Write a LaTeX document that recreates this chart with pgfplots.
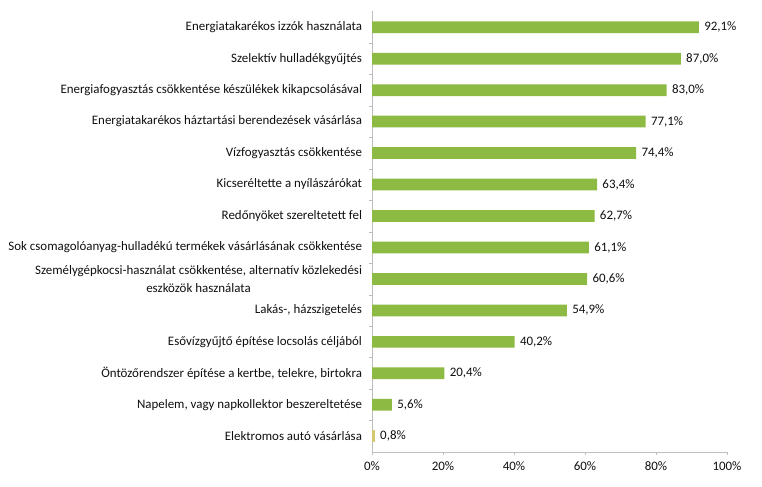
\documentclass[border=0pt]{standalone}
\usepackage{pgfplots}
\pgfplotsset{compat=1.18}
\usepackage{fontspec}
\setmainfont{Carlito}
\definecolor{barG}{RGB}{141,186,66}
\definecolor{barY}{RGB}{214,200,112}
\definecolor{axG}{RGB}{190,190,190}
\definecolor{txt}{RGB}{15,15,15}
\begin{document}
\begin{tikzpicture}
\path[use as bounding box] (0,0) rectangle (571.5pt,364.5pt);
\begin{axis}[
  at={(279pt,25.5pt)}, anchor=south west,
  scale only axis, width=266.25pt, height=330.4pt,
  xbar, bar width=8.8pt,
  xmin=0, xmax=100,
  ymin=-0.5, ymax=13.5, y dir=reverse,
  axis x line*=bottom, axis y line*=left,
  axis line style={axG, line width=0.6pt},
  xtick={0,20,...,100},
  xticklabel={\pgfmathprintnumber{\tick}\%},
  ytick={0,...,13},
  minor ytick={0.5,1.5,...,12.5},
  yticklabels={
    Energiatakarékos izzók használata,
    Szelektív hulladékgyűjtés,
    Energiafogyasztás csökkentése készülékek kikapcsolásával,
    Energiatakarékos háztartási berendezések vásárlása,
    Vízfogyasztás csökkentése,
    Kicseréltette a nyílászárókat,
    Redőnyöket szereltetett fel,
    Sok csomagolóanyag-hulladékú termékek vásárlásának csökkentése,
    {Személygépkocsi-használat csökkentése, alternatív közlekedési\\eszközök használata},
    {Lakás-, házszigetelés},
    Esővízgyűjtő építése locsolás céljából,
    {Öntözőrendszer építése a kertbe, telekre, birtokra},
    {Napelem, vagy napkollektor beszereltetése},
    Elektromos autó vásárlása
  },
  tick align=outside,
  major tick length=2.5pt, minor tick length=2.5pt,
  major y tick style={draw=none},
  minor y tick style={draw=axG},
  x tick style={draw=axG},
  tick label style={font=\fontsize{9.7pt}{13pt}\selectfont, text=txt},
  yticklabel style={align=center, xshift=-1.5pt},
  xticklabel style={yshift=-1pt},
  /pgf/number format/assume math mode=true,
  nodes near coords={\pgfmathprintnumber[fixed,fixed zerofill,precision=1,use comma]{\pgfplotspointmeta}\%},
  nodes near coords style={font=\fontsize{9.7pt}{12pt}\selectfont, text=txt, xshift=0.5pt},
  clip=false,
]
\addplot[fill=barG, draw=none, bar shift=0pt] coordinates {
 (92.1,0) (87.0,1) (83.0,2) (77.1,3) (74.4,4) (63.4,5) (62.7,6)
 (61.1,7) (60.6,8) (54.9,9) (40.2,10) (20.4,11) (5.6,12)
};
\addplot[fill=barY, draw=none, bar shift=0pt] coordinates {(0.8,13)};
\end{axis}
\end{tikzpicture}
\end{document}
